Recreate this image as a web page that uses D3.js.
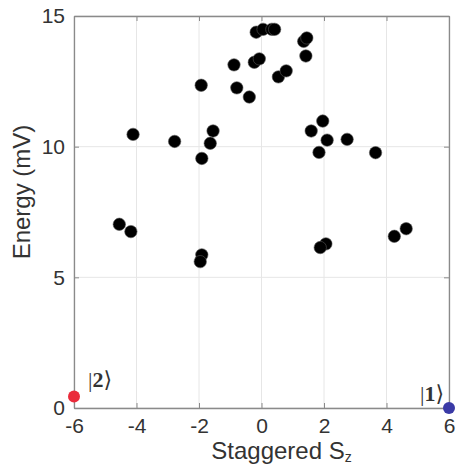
<!DOCTYPE html>
<html>
<head>
<meta charset="utf-8">
<script src="https://cdn.jsdelivr.net/npm/d3@7"></script>
<style>
  body { margin: 0; background: #fff; }
  svg { display: block; }
  .tick text { font-family: "Liberation Sans", Arial, sans-serif; font-size: 21px; fill: #333; }
  .label { font-family: "Liberation Sans", Arial, sans-serif; font-size: 24px; fill: #333; }
  .ket { font-family: "Liberation Serif", "DejaVu Serif", serif; font-size: 22px; fill: #333; }
</style>
</head>
<body>
<svg id="chart" width="460" height="468"></svg>
<script>
// staggered Sz of each state
const sz = [-0.17, 0.05, 0.33, 0.42, 1.35, 1.45, 1.42, -0.88, -0.23, -0.07,
            -0.79, -0.39, 0.54, 0.79, -1.93,
            -4.11, -2.78, -1.55, -1.64, -1.91, 1.96, 1.59, 2.10, 2.74, 1.84, 3.65,
            -4.55, -4.18, -1.91, -1.96, 4.63, 4.25, 2.06, 1.88];
// energy (mV)
const energy = [14.38, 14.49, 14.49, 14.49, 14.03, 14.16, 13.47, 13.13, 13.23, 13.36,
                12.25, 11.90, 12.67, 12.90, 12.35,
                10.47, 10.20, 10.60, 10.13, 9.55, 10.98, 10.60, 10.25, 10.28, 9.78, 9.77,
                7.03, 6.75, 5.86, 5.60, 6.86, 6.57, 6.28, 6.14];

// the two ground states
const groundNames = ['2', '1'];
const groundSz = [-6, 6];
const groundEnergy = [0.44, 0];
const groundColors = ['#ea2b3b', '#3a3aa6'];

const xTicks = [-6, -4, -2, 0, 2, 4, 6];
const yTicks = [0, 5, 10, 15];

const width = 460, height = 468;
const margin = {top: 16, right: 11, bottom: 60, left: 74};
const svg = d3.select('#chart');

const x = d3.scaleLinear().domain([-6, 6]).range([margin.left, width - margin.right]);
const y = d3.scaleLinear().domain([0, 15]).range([height - margin.bottom, margin.top]);

// grid
const grid = svg.append('g');
grid.selectAll('.gx').data(xTicks).enter().append('line')
    .attr('x1', d => x(d)).attr('x2', d => x(d))
    .attr('y1', y(0)).attr('y2', y(15))
    .attr('stroke', '#e6e6e6').attr('stroke-width', 1);
grid.selectAll('.gy').data(yTicks).enter().append('line')
    .attr('x1', x(-6)).attr('x2', x(6))
    .attr('y1', d => y(d)).attr('y2', d => y(d))
    .attr('stroke', '#e6e6e6').attr('stroke-width', 1);

// axes, ticks point inwards
const xAxis = svg.append('g').attr('transform', 'translate(0,' + y(0) + ')')
    .call(d3.axisBottom(x).tickValues(xTicks).tickSizeInner(-5).tickSizeOuter(0).tickPadding(10));
const yAxis = svg.append('g').attr('transform', 'translate(' + x(-6) + ',0)')
    .call(d3.axisLeft(y).tickValues(yTicks).tickSizeInner(-5).tickSizeOuter(0).tickPadding(9));
const xTop = svg.append('g').attr('transform', 'translate(0,' + y(15) + ')')
    .call(d3.axisTop(x).tickValues(xTicks).tickSizeInner(-5).tickSizeOuter(0).tickFormat(''));
const yRight = svg.append('g').attr('transform', 'translate(' + x(6) + ',0)')
    .call(d3.axisRight(y).tickValues(yTicks).tickSizeInner(-5).tickSizeOuter(0).tickFormat(''));

[xAxis, yAxis, xTop, yRight].forEach(a => {
    a.select('.domain').attr('stroke', '#8a8a8a').attr('stroke-width', 1.3);
    a.selectAll('.tick line').attr('stroke', '#8a8a8a');
    a.selectAll('.tick text').attr('font-family', null).attr('font-size', null);
});
xAxis.selectAll('.tick text').text(d => d < 0 ? '-' + Math.abs(d) : d);

// axis labels
svg.append('text').attr('class', 'label')
    .attr('transform', 'translate(30,' + (y(7.5) - 20) + ') rotate(-90)')
    .attr('text-anchor', 'middle')
    .text('Energy (mV)');

const xl = svg.append('text').attr('class', 'label')
    .attr('x', x(0) + 20).attr('y', 459)
    .attr('text-anchor', 'middle');
xl.append('tspan').text('Staggered S');
xl.append('tspan').attr('font-size', 14).attr('dy', 3).text('z');

// excited states
svg.append('g').selectAll('circle').data(sz).enter().append('circle')
    .attr('cx', d => x(d))
    .attr('cy', (d, i) => y(energy[i]))
    .attr('r', 6.2)
    .attr('fill', '#000')
    .attr('stroke', '#555')
    .attr('stroke-width', 0.6);

// ground states
svg.append('g').selectAll('circle').data(groundSz).enter().append('circle')
    .attr('cx', d => x(d))
    .attr('cy', (d, i) => y(groundEnergy[i]))
    .attr('r', 6)
    .attr('fill', (d, i) => groundColors[i]);

const kets = svg.append('g').selectAll('text').data(groundSz).enter().append('text')
    .attr('class', 'ket')
    .attr('x', (d, i) => i === 0 ? x(d) + 14 : x(d) - 5)
    .attr('y', (d, i) => i === 0 ? y(groundEnergy[i]) - 10 : y(groundEnergy[i]) - 7)
    .attr('text-anchor', (d, i) => i === 0 ? 'start' : 'end');
kets.append('tspan').text('|');
kets.append('tspan').attr('font-weight', 'bold').text((d, i) => groundNames[i]);
kets.append('tspan').text('⟩');
</script>
</body>
</html>
